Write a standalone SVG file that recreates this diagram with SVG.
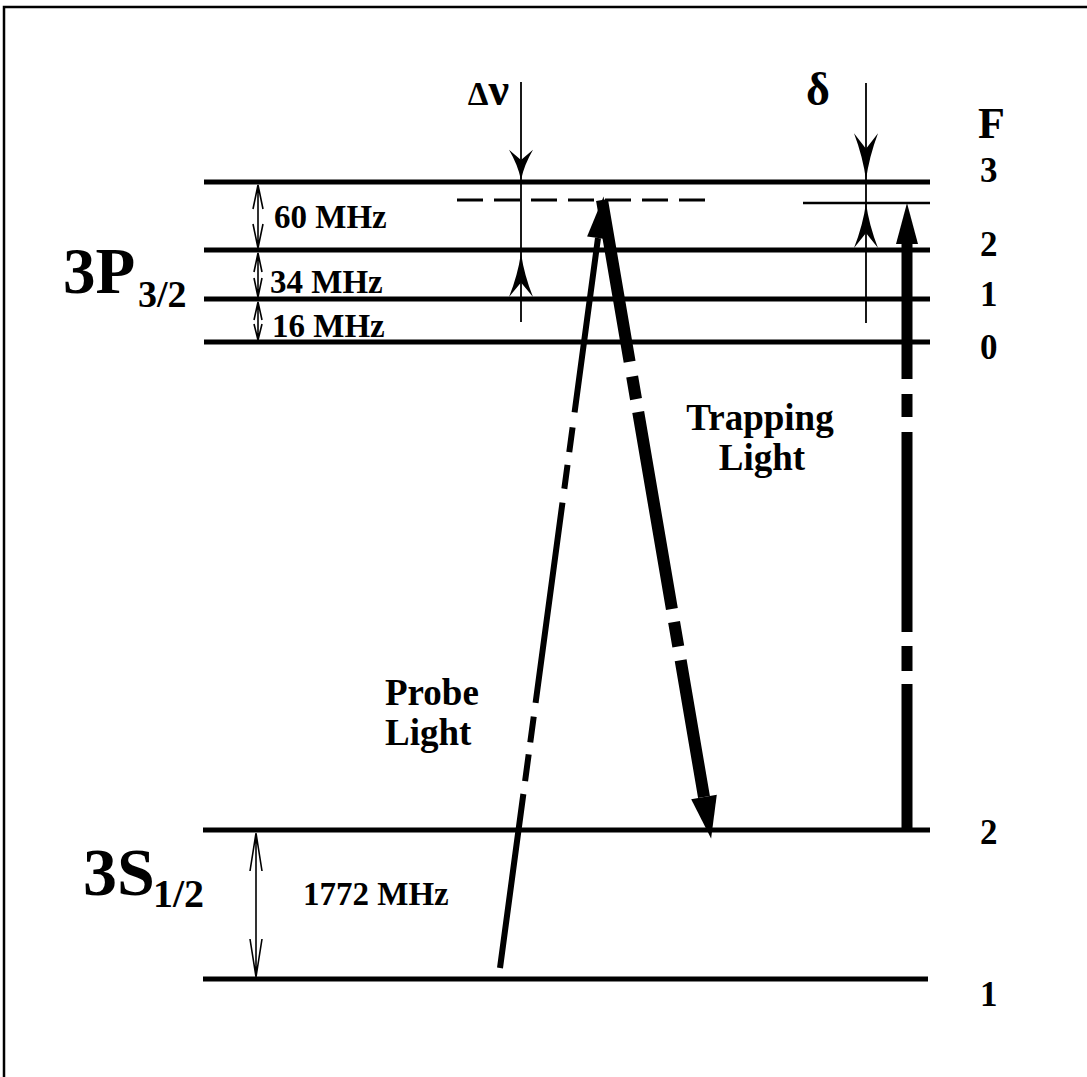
<svg xmlns="http://www.w3.org/2000/svg" width="1087" height="1077" viewBox="0 0 1087 1077">
<style>
.lvl{stroke:#000;stroke-width:5;fill:none}
.thin{stroke:#000;stroke-width:1.6;fill:none}
.ruler{stroke:#000;stroke-width:1.8;fill:none}
.t{font-family:"Liberation Serif","Times New Roman",serif;font-weight:bold;fill:#000}
.mhz{font-size:33px}
.lab{font-size:37px}
.num{font-size:35px}
.beam{stroke:#000;fill:none;stroke-linecap:butt}
</style>
<defs>
<path id="barb" d="M0,0 Q-3,-22 -12,-45 L0,-30 L12,-45 Q3,-22 0,0 Z" fill="#000"/>
</defs>
<rect width="1087" height="1077" fill="#fff"/>
<path d="M4,1077 V7 H1087" stroke="#000" stroke-width="2.5" fill="none"/>

<g id="level-3P-F3">
<line class="lvl" x1="204" y1="182" x2="930" y2="182"/>
<text class="t num" x="980" y="182">3</text>
</g>
<g id="level-3P-F2">
<line class="lvl" x1="204" y1="250" x2="930" y2="250"/>
<text class="t num" x="980" y="256">2</text>
</g>
<g id="level-3P-F1">
<line class="lvl" x1="204" y1="299" x2="930" y2="299"/>
<text class="t num" x="980" y="306">1</text>
</g>
<g id="level-3P-F0">
<line class="lvl" x1="204" y1="342" x2="930" y2="342"/>
<text class="t num" x="980" y="359">0</text>
</g>
<g id="label-F">
<text class="t" font-size="44" x="978" y="138">F</text>
</g>
<g id="label-3P">
<text class="t" font-size="65" x="63" y="293">3P</text>
<text class="t" font-size="38" x="138" y="307">3/2</text>
</g>
<g id="level-3S-F2">
<line class="lvl" x1="203" y1="830" x2="930" y2="830"/>
<text class="t num" x="980" y="844">2</text>
</g>
<g id="level-3S-F1">
<line class="lvl" x1="203" y1="979" x2="928" y2="979"/>
<text class="t num" x="980" y="1006">1</text>
</g>
<g id="label-3S">
<text class="t" font-size="68" x="83" y="895">3S</text>
<text class="t" font-size="40" x="153" y="907">1/2</text>
</g>
<g id="virtual-levels">
<line x1="457" y1="200" x2="712" y2="200" stroke="#000" stroke-width="3" stroke-dasharray="26 11"/>
<line x1="803" y1="203" x2="930" y2="203" stroke="#000" stroke-width="2.5"/>
</g>
<g id="label-probe">
<text class="t lab" x="385" y="705">Probe</text>
<text class="t lab" x="385" y="745">Light</text>
</g>
<g id="label-trapping">
<text class="t lab" x="760" y="430" text-anchor="middle">Trapping</text>
<text class="t lab" x="762" y="470" text-anchor="middle">Light</text>
</g>
<g id="label-dnu">
<text class="t" x="509" y="105" text-anchor="end"><tspan font-size="33">Δ</tspan><tspan font-size="46">ν</tspan></text>
</g>
<g id="label-delta">
<text class="t" font-size="46" x="806" y="105">δ</text>
</g>
<g id="label-spacings">
<text class="t mhz" x="274" y="228">60 MHz</text>
<text class="t mhz" x="270" y="293">34 MHz</text>
<text class="t mhz" x="272" y="337">16 MHz</text>
<text class="t mhz" x="303" y="905">1772 MHz</text>
</g>

<g id="connectors">
<!-- spacing rulers -->
<path class="thin" d="M258,185 V248 M253,209 L258,185 L263,209 M253,224 L258,248 L263,224"/>
<path class="thin" d="M258,253 V297 M254,272 L258,253 L262,272 M254,278 L258,297 L262,278"/>
<path class="thin" d="M258,302 V340 M254,320 L258,302 L262,320 M254,324 L258,340 L262,324"/>
<path class="thin" d="M256,833 V977 M250,871 L256,833 L262,871 M250,939 L256,977 L262,939"/>
<!-- detuning delta nu -->
<path class="ruler" d="M521,82 V322"/>
<use href="#barb" transform="translate(521,180) scale(1,0.67)"/>
<use href="#barb" transform="translate(521,253) scale(1,-0.98)"/>
<!-- detuning delta -->
<path class="ruler" d="M866,83 V323"/>
<use href="#barb" transform="translate(866,180) scale(1,1.04)"/>
<use href="#barb" transform="translate(866,203) scale(1,-1)"/>
<!-- probe light -->
<path class="beam" stroke-width="6" d="M598,238 L500,968" stroke-dasharray="176 15 25 13 24 14 202 14 26 12 27 13 200"/>
<polygon points="603.6,196.4 608.9,239.5 587.1,236.5" fill="#000"/>
<!-- trapping light diagonal -->
<path class="beam" stroke-width="12" d="M602,200 L704,797" stroke-dasharray="164 15 23 13 200 13 25 14 200"/>
<polygon points="711.1,838.4 716.8,794.8 691.2,799.2" fill="#000"/>
<!-- trapping light vertical -->
<path class="beam" stroke-width="11" d="M907,242 V830" stroke-dasharray="137 15 23 15 200 14 25 13 160"/>
<polygon points="907,203 896,244 918,244" fill="#000"/>
</g>
</svg>
